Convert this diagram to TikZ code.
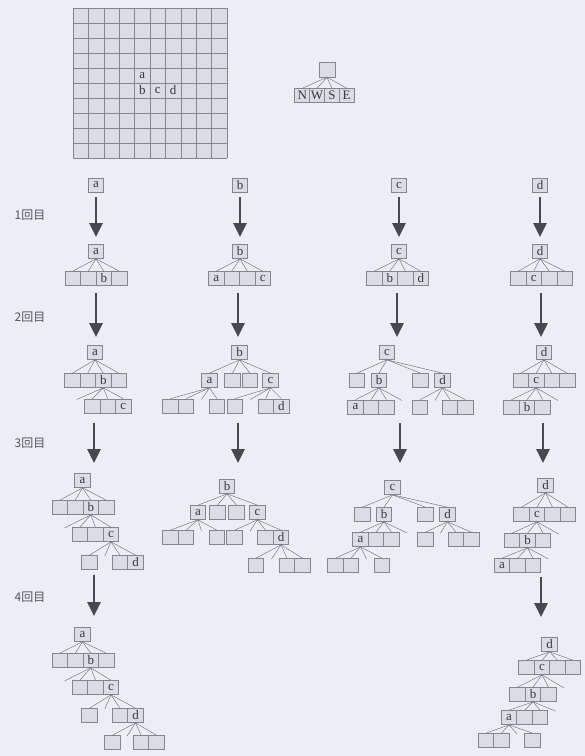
\documentclass[tikz,border=0pt]{standalone}
\usepackage{fontspec}
\setmainfont{Liberation Serif}
\newfontfamily\jpfont{Noto Sans CJK JP}
\usetikzlibrary{arrows.meta}
\definecolor{bgcol}{RGB}{236,238,244}
\definecolor{cellfill}{RGB}{219,221,227}
\definecolor{celldraw}{RGB}{132,133,142}
\definecolor{linkcol}{RGB}{112,113,122}
\definecolor{arrowcol}{RGB}{72,72,78}
\definecolor{txtcol}{RGB}{55,55,62}

\newcommand\kids[3]{\foreach \nm/\xx/\lb in {#3}
  {\node[sq] (#1\nm) at (\xx,#2) {\lb}; \draw[link] (#1.south) -- (#1\nm.north);}}
\newcommand\stubline[3]{\coordinate (#1) at (#2); \draw[link] (#3.south) -- (#1);}

\begin{document}
\begin{tikzpicture}[x=1pt, y=-1pt,
  sq/.style={draw=celldraw, fill=cellfill, line width=0.65pt, minimum width=15.5pt, minimum height=14pt, inner sep=0pt, font=\fontsize{13}{13}\selectfont, text=txtcol},
  link/.style={draw=linkcol, line width=0.45pt},
  gridline/.style={draw=celldraw, line width=0.6pt},
  letter/.style={font=\fontsize{13}{13}\selectfont, text=txtcol, inner sep=0pt},
  bigarrow/.style={draw=arrowcol, line width=2.6pt, -{Triangle[length=14pt,width=13pt]}},
  stage/.style={font=\jpfont\fontsize{12}{12}\selectfont, text=txtcol!85}
]
  \useasboundingbox (0,0) rectangle (585,756);
  \fill[bgcol] (0,0) rectangle (585,756);

  \fill[cellfill] (73,8) rectangle (227,158);
  \foreach \i in {0,...,10} {
    \draw[gridline] ({73+15.4*\i},8) -- ({73+15.4*\i},158);
    \draw[gridline] (73,{8+15*\i}) -- (227,{8+15*\i});
  }
  \node[letter] (ga) at (142.3,75.5) {a};
  \node[letter] (gb) at (142.3,90.5) {b};
  \node[letter] (gc) at (157.7,90.5) {c};
  \node[letter] (gd) at (173.1,90.5) {d};

  \node[sq, minimum width=16pt, minimum height=15pt] (dir) at (327,69.5) {};
  \kids{dir}{95.5}{N/302.4/N,W/317.1/W,S/331.9/S,E/346.6/E}

  \node[sq] (ra) at (96,185) {a};
  \node[sq] (rb) at (240,185) {b};
  \node[sq] (rc) at (399,185) {c};
  \node[sq] (rd) at (540,185) {d};

  \node[stage] (s1) at (30,215) {1回目};
  \node[stage] (s2) at (30,317) {2回目};
  \node[stage] (s3) at (30,443) {3回目};
  \node[stage] (s4) at (30,597) {4回目};

  \foreach \c/\xx in {a/96,b/240,c/399,d/540} {
    \coordinate (p1\c) at (\xx,197); \coordinate (q1\c) at (\xx,237);
    \draw[bigarrow] (p1\c) -- (q1\c);
  }
  \foreach \c/\xx in {a/96,b/238,c/397,d/541} {
    \coordinate (p2\c) at (\xx,293); \coordinate (q2\c) at (\xx,337);
    \draw[bigarrow] (p2\c) -- (q2\c);
  }
  \foreach \c/\xx in {a/94,b/238,c/400,d/543} {
    \coordinate (p3\c) at (\xx,423); \coordinate (q3\c) at (\xx,463);
    \draw[bigarrow] (p3\c) -- (q3\c);
  }
  \coordinate (p4a) at (94,575); \coordinate (q4a) at (94,616);
  \draw[bigarrow] (p4a) -- (q4a);
  \coordinate (p4d) at (541,577); \coordinate (q4d) at (541,617);
  \draw[bigarrow] (p4d) -- (q4d);

  % 1
  \node[sq] (a1) at (96,251.5) {a};
  \kids{a1}{278.5}{N/72.75/{},W/88.25/{},S/103.75/b,E/119.25/{}}
  \node[sq] (b1) at (240,251.5) {b};
  \kids{b1}{278.5}{N/216.25/a,W/231.75/{},S/247.25/{},E/262.75/c}
  \node[sq] (c1) at (399,251.5) {c};
  \kids{c1}{278.5}{N/374.25/{},W/389.75/b,S/405.25/{},E/420.75/d}
  \node[sq] (d1) at (540,251.5) {d};
  \kids{d1}{278.5}{N/518.25/{},W/533.75/c,S/549.25/{},E/564.75/{}}

  % 2
  \node[sq] (a2) at (95,352.5) {a};
  \kids{a2}{380.5}{N/72.25/{},W/87.75/{},S/103.25/b,E/118.75/{}}
  \kids{a2S}{406}{W/92.25/{},S/107.75/{},E/123.25/c}
  \stubline{a2SN}{76.75,399.5}{a2S}

  \node[sq] (b2) at (239.5,352.5) {b};
  \kids{b2}{380.5}{N/209.5/a,W/232.5/{},S/250/{},E/270.5/c}
  \kids{b2N}{406}{N/170.5/{},W/186/{},E/217/{}}
  \stubline{b2NS}{201.5,399.5}{b2N}
  \kids{b2E}{406}{N/234.75/{},S/265.75/{},E/281.25/d}
  \stubline{b2EW}{250.25,399.5}{b2E}

  \node[sq] (c2) at (387,352.5) {c};
  \kids{c2}{380.5}{N/357/{},W/379/b,S/420.5/{},E/442.5/d}
  \kids{c2W}{407}{N/355.5/a,W/371/{},S/386.5/{}}
  \stubline{c2WE}{402,400.5}{c2W}
  \kids{c2E}{407}{N/420/{},S/450/{},E/465.5/{}}
  \stubline{c2EW}{435,400.5}{c2E}

  \node[sq] (d2) at (544,352.5) {d};
  \kids{d2}{380.5}{N/520.75/{},W/536.25/c,S/551.75/{},E/567.25/{}}
  \kids{d2W}{407}{N/511.5/{},W/527/b,S/542.5/{}}
  \stubline{d2WE}{558,400.5}{d2W}

  % 3
  \node[sq] (a3) at (82.5,480.5) {a};
  \kids{a3}{507.5}{N/59.75/{},W/75.25/{},S/90.75/b,E/106.25/{}}
  \kids{a3S}{534.5}{W/80/{},S/95.5/{},E/111/c}
  \stubline{a3SN}{64.5,528}{a3S}
  \kids{a3SE}{562.5}{N/89.5/{},S/120/{},E/135.5/d}
  \stubline{a3SEW}{104.75,556}{a3SE}

  \node[sq] (b3) at (227,486.5) {b};
  \kids{b3}{512.5}{N/198/a,W/217.5/{},S/236.5/{},E/257.5/c}
  \kids{b3N}{537.5}{N/170.5/{},W/186/{},E/217/{}}
  \stubline{b3NS}{201.5,531}{b3N}
  \kids{b3E}{537.5}{N/234.5/{},S/265.5/{},E/281/d}
  \stubline{b3EW}{250,531}{b3E}
  \kids{b3EE}{565.5}{N/256/{},S/287/{},E/302.5/{}}
  \stubline{b3EEW}{271.5,559}{b3EE}

  \node[sq] (c3) at (392.5,487.5) {c};
  \kids{c3}{514.5}{N/362.5/{},W/384/b,S/425.5/{},E/447.5/d}
  \kids{c3W}{539.5}{N/360.5/a,W/376/{},S/391.5/{}}
  \stubline{c3WE}{407,533}{c3W}
  \kids{c3E}{539.5}{N/425.5/{},S/456/{},E/471.5/{}}
  \stubline{c3EW}{440.5,533}{c3E}
  \kids{c3WN}{565.5}{N/335.5/{},W/351/{},E/382/{}}
  \stubline{c3WNS}{366.5,559}{c3WN}

  \node[sq] (d3) at (545.5,485.5) {d};
  \kids{d3}{514.5}{N/521.5/{},W/537/c,S/552.5/{},E/568/{}}
  \kids{d3W}{540.5}{N/512/{},W/527.5/b,S/543/{}}
  \stubline{d3WE}{558.5,534}{d3W}
  \kids{d3WW}{565.5}{N/502/a,W/517.5/{},S/533/{}}
  \stubline{d3WWE}{548.5,559}{d3WW}

  % 4
  \node[sq] (a4) at (82.5,634.5) {a};
  \kids{a4}{660.5}{N/59.75/{},W/75.25/{},S/90.75/b,E/106.25/{}}
  \kids{a4S}{687.5}{W/80/{},S/95.5/{},E/111/c}
  \stubline{a4SN}{64.5,681}{a4S}
  \kids{a4SE}{715.5}{N/89.5/{},S/120/{},E/135.5/d}
  \stubline{a4SEW}{104.75,709}{a4SE}
  \kids{a4SEE}{742.5}{N/112.5/{},S/141/{},E/156.5/{}}
  \stubline{a4SEEW}{127,736}{a4SEE}

  \node[sq] (d4) at (549.5,644.5) {d};
  \kids{d4}{667.5}{N/526.5/{},W/542/c,S/557.5/{},E/573/{}}
  \kids{d4W}{694.5}{N/517.5/{},W/533/b,S/548.5/{}}
  \stubline{d4WE}{564,688}{d4W}
  \kids{d4WW}{717.5}{N/509/a,W/524.5/{},S/540/{}}
  \stubline{d4WWE}{555.5,711}{d4WW}
  \kids{d4WWN}{740.5}{N/486/{},W/501.5/{},E/532.5/{}}
  \stubline{d4WWNS}{517,734}{d4WWN}
\end{tikzpicture}
\end{document}
